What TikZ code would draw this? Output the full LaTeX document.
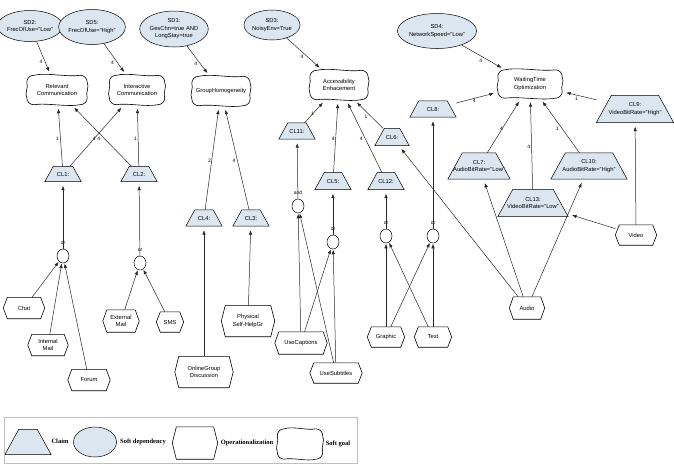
\documentclass[tikz,border=0pt]{standalone}
\usepackage{fontspec}
\setmainfont{Liberation Sans}
\newfontfamily\legfont{Liberation Serif}
\usetikzlibrary{shapes.geometric,arrows.meta,backgrounds,calc}

\definecolor{clmblue}{HTML}{DCE6F1}

\begin{document}
\begin{tikzpicture}[x=1pt,y=-1pt,
  every node/.style={font=\fontsize{5.8}{7.5}\selectfont, align=center, inner sep=0pt},
  sdep/.style={ellipse, draw, fill=clmblue, line width=.5pt},
  goal/.style={minimum width=58, minimum height=29},
  claim/.style={minimum width=36, minimum height=16},
  oper/.style={minimum width=40, minimum height=21},
  junc/.style={ellipse, draw, line width=.5pt, minimum width=12, minimum height=14},
  link/.style={draw=black!85, line width=.5pt, -{Latex[length=4.5pt,width=3.5pt]}, shorten >=4pt},
  jlink/.style={link, shorten >=.5pt},
  wlab/.style={font=\fontsize{5}{6}\selectfont, inner sep=1pt},
  jlab/.style={wlab, fill=white, label distance=3pt},
  legtext/.style={font=\legfont\bfseries\fontsize{6.5}{8}\selectfont}
]
  \useasboundingbox (0,0) rectangle (674,467);

  % soft dependencies
  \node[sdep, minimum width=57, minimum height=31] (sd2) at (30,26) {SD2:\\FrecOfUse="Low"};
  \node[sdep, minimum width=59, minimum height=35] (sd5) at (92,27) {SD5:\\FrecOfUse="High"};
  \node[sdep, minimum width=54, minimum height=36] (sd1) at (174,29) {SD1:\\GesChn=true AND\\LongStay=true};
  \node[sdep, minimum width=54, minimum height=30] (sd3) at (272,25) {SD3:\\NoisyEnv=True};
  \node[sdep, minimum width=67, minimum height=35] (sd4) at (437,31) {SD4:\\NetworkSpeed="Low"};

  % soft goals
  \node[goal, minimum width=60] (relcom) at (57,90) {Relevant\\Communication};
  \node[goal, minimum width=55] (intcom) at (137,90) {Interactive\\Communication};
  \node[goal] (grphom) at (221,91) {GroupHomogeneity};
  \node[goal] (access) at (339,85) {Accessibility\\Enhacement};
  \node[goal, minimum width=64, minimum height=28] (waitopt) at (530,84) {WaitingTime\\Optimization};

  % claims
  \node[claim, minimum height=15] (cl1) at (63,174) {CL1:};
  \node[claim, minimum height=15] (cl2) at (139,174) {CL2:};
  \node[claim] (cl4) at (204,218) {CL4:};
  \node[claim] (cl3) at (251,218) {CL3:};
  \node[claim] (cl11) at (297,131) {CL11:};
  \node[claim, minimum height=17] (cl5) at (333,181) {CL5:};
  \node[claim, minimum height=17] (cl12) at (386,181) {CL12:};
  \node[claim, minimum width=34, minimum height=17] (cl6) at (392,137) {CL6:};
  \node[claim, minimum width=46] (cl8) at (433,109) {CL8:};
  \node[claim, minimum width=62, minimum height=26] (cl7) at (479,166) {CL7:\\AudioBitRate="Low"};
  \node[claim, minimum width=76, minimum height=26] (cl10) at (589,166) {CL10:\\AudioBitRate="High"};
  \node[claim, minimum width=70, minimum height=27] (cl13) at (533,203) {CL13:\\VideoBitRate="Low"};
  \node[claim, minimum width=77, minimum height=27] (cl9) at (635,109) {CL9:\\VideoBitRate="High"};

  % and / or
  \node[junc, label={[jlab]above:or}] (j1) at (63,256) {};
  \node[junc, label={[jlab]above:or}] (j2) at (140,263) {};
  \node[junc, label={[jlab]above:and}] (jand) at (298,206) {};
  \node[junc, label={[jlab]above:or}] (j5) at (333,242) {};
  \node[junc, label={[jlab]above:or}] (j12) at (386,236) {};
  \node[junc, label={[jlab]above:or}] (j8) at (433,236) {};

  % operationalizations
  \node[oper, minimum width=41] (chat) at (24,308) {Chat};
  \node[oper] (intmail) at (48,345) {Internal\\Mail};
  \node[oper, minimum width=42] (forum) at (89,380) {Forum};
  \node[oper, minimum width=36, minimum height=22] (extmail) at (121,321) {External\\Mail};
  \node[oper, minimum width=27, minimum height=20] (sms) at (170,322) {SMS};
  \node[oper, minimum width=58, minimum height=31] (onlgrp) at (204,372) {OnlineGroup\\Discussion};
  \node[oper, minimum width=53, minimum height=31] (physgr) at (248,321) {Physical\\Self-HelpGr};
  \node[oper, minimum width=52, minimum height=22] (usecap) at (301,343) {UseCaptions};
  \node[oper, minimum width=52, minimum height=20] (usesub) at (336,373) {UseSubtitles};
  \node[oper, minimum width=37, minimum height=20] (graphic) at (386,337) {Graphic};
  \node[oper, minimum width=37, minimum height=20] (txt) at (433,337) {Text};
  \node[oper, minimum width=35, minimum height=22] (audio) at (527,308) {Audio};
  \node[oper, minimum width=41, minimum height=20] (video) at (636,235) {Video};

  % legend
  \draw[black!25, line width=.7pt] (4,417) rectangle (357,463);
  \node[claim, minimum width=46, minimum height=25] (lgclaim) at (28,442) {};
  \node[legtext] (lgt1) at (60,441) {Claim};
  \node[sdep, minimum width=43, minimum height=30] (lgsdep) at (95,442) {};
  \node[legtext] (lgt2) at (143,442) {Soft dependency};
  \node[oper, minimum width=45, minimum height=32] (lgoper) at (195,443) {};
  \node[legtext] (lgt3) at (247,443) {Operationalization};
  \node[goal, minimum width=45, minimum height=30] (lggoal) at (300,444) {};
  \node[legtext] (lgt4) at (338,444) {Soft goal};

  % claim outlines
  \begin{scope}[on background layer]
  \foreach \c in {cl1,cl2,cl3,cl4,cl5,cl6,cl7,cl8,cl9,cl10,cl11,cl12,cl13,lgclaim}
    \filldraw[fill=clmblue, line width=.5pt] let \p1=(\c.north west), \p2=(\c.south east) in
      (\x1,\y2) -- (\x1+.55*\y1-.55*\y2,\y1) -- (\x2-.55*\y1+.55*\y2,\y1) -- (\x2,\y2) -- cycle;
  \end{scope}

  % soft goal outlines
  \foreach \g in {relcom,intcom,grphom,access,waitopt,lggoal}
    \draw[line width=.6pt] let \p1=(\g.north west), \p2=(\g.south east) in
      (\x1+7pt,\y1)
      .. controls (.67*\x1+.33*\x2,\y1+3pt) and (.33*\x1+.67*\x2,\y1-2pt) .. (\x2-7pt,\y1)
      .. controls (\x2-3pt,\y1) and (\x2,\y1-3pt) .. (\x2,\y1-7pt)
      .. controls (\x2+2.5pt,.6*\y1+.4*\y2) and (\x2-2pt,.4*\y1+.6*\y2) .. (\x2,\y2+7pt)
      .. controls (\x2,\y2+3pt) and (\x2-3pt,\y2) .. (\x2-7pt,\y2)
      .. controls (.33*\x1+.67*\x2,\y2-2.5pt) and (.67*\x1+.33*\x2,\y2+2pt) .. (\x1+7pt,\y2)
      .. controls (\x1+3pt,\y2) and (\x1,\y2+3pt) .. (\x1,\y2+7pt)
      .. controls (\x1-2.5pt,.4*\y1+.6*\y2) and (\x1+2pt,.6*\y1+.4*\y2) .. (\x1,\y1-7pt)
      .. controls (\x1,\y1-3pt) and (\x1+3pt,\y1) .. (\x1+7pt,\y1) -- cycle;

  % operationalization outlines
  \foreach \o in {chat,intmail,forum,extmail,sms,onlgrp,physgr,usecap,usesub,graphic,txt,audio,video,lgoper}
    \draw[line width=.6pt] let \p1=(\o.north west), \p2=(\o.south east) in
      (\x1,.5*\y1+.5*\y2) -- (\x1+4pt,\y1) -- (\x2-4pt,\y1) -- (\x2,.5*\y1+.5*\y2)
      -- (\x2-4pt,\y2) -- (\x1+4pt,\y2) -- cycle;

  % weighted contributions
  \foreach \a/\b/\w in {sd2/relcom/4, sd5/intcom/4, sd1/grphom/4, sd3/access/4, sd4/waitopt/4,
      cl1/relcom/1, cl1/intcom/4, cl2/relcom/4, cl2/intcom/1, cl4/grphom/2, cl3/grphom/4,
      cl11/access/1, cl5/access/4, cl12/access/4, cl6/access/1,
      cl8/waitopt/4, cl7/waitopt/4, cl13/waitopt/4, cl10/waitopt/1, cl9/waitopt/1}
    \draw[link] (\a) -- node[wlab, midway, below left] {\w} (\b);

  % plain links
  \foreach \a/\b in {onlgrp/cl4, physgr/cl3, audio/cl6, audio/cl7, audio/cl10, video/cl13, video/cl9,
      j1/cl1, j2/cl2, jand/cl11, j5/cl5, j12/cl12, j8/cl8}
    \draw[link] (\a) -- (\b);

  % into and/or
  \foreach \a/\b in {chat/j1, intmail/j1, forum/j1, extmail/j2, sms/j2, usecap/jand, usesub/jand,
      usecap/j5, usesub/j5, graphic/j12, txt/j12, graphic/j8, txt/j8}
    \draw[jlink] (\a) -- (\b);

\end{tikzpicture}
\end{document}
